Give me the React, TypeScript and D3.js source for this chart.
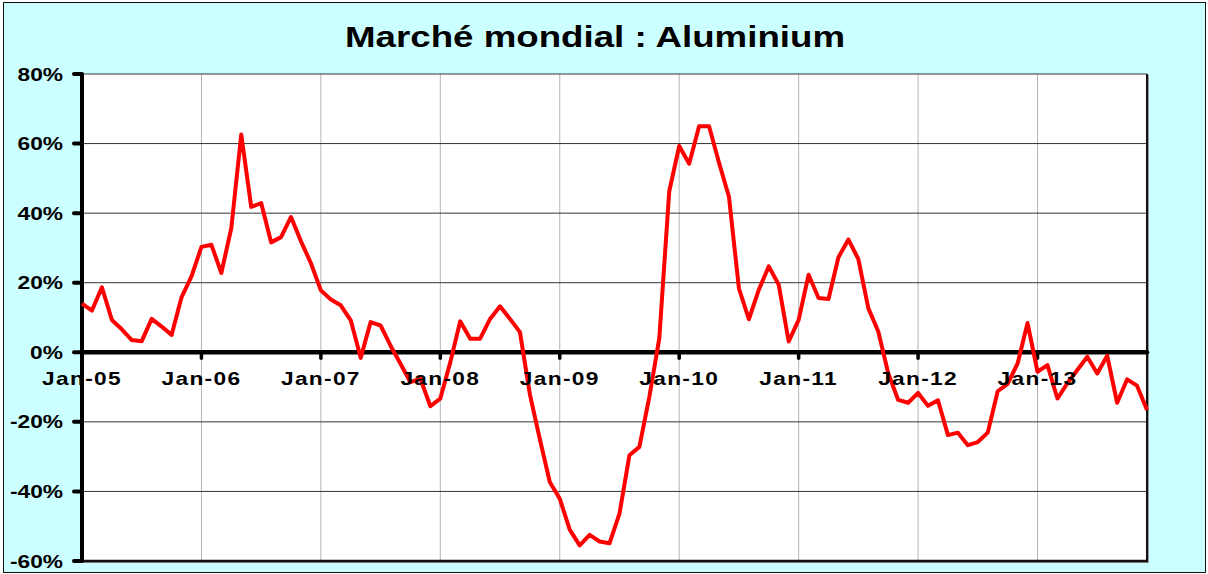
import React, { useRef, useEffect } from 'react'
import * as d3 from 'd3'

// monthly year-on-year change (%), Jan-05 .. Dec-13
const values2005 = [14, 12, 18.7, 9.3, 6.6, 3.5, 3.2, 9.6, 7.4, 5.0, 15.8, 21.8]
const values2006 = [30.3, 30.9, 22.8, 35.7, 62.6, 41.8, 42.9, 31.6, 33.1, 38.9, 31.9, 25.6]
const values2007 = [17.8, 15.2, 13.5, 9.2, -1.6, 8.7, 7.7, 1.9, -3.3, -8.6, -7.6, -15.5]
const values2008 = [-13.3, -2.9, 8.9, 3.9, 3.9, 9.6, 13.2, 9.6, 5.8, -12.1, -25, -37.3]
const values2009 = [-42.1, -51.0, -55.5, -52.5, -54.4, -54.9, -46.4, -29.6, -27.2, -12.8, 4.0, 46.3]
const values2010 = [59.3, 54.2, 65.0, 65.0, 54.5, 44.7, 18.4, 9.5, 18.0, 24.7, 19.4, 3.1]
const values2011 = [9.3, 22.3, 15.6, 15.3, 27.3, 32.4, 26.8, 12.7, 6.0, -6.0, -13.7, -14.5]
const values2012 = [-11.7, -15.4, -13.8, -23.8, -23.1, -26.7, -25.8, -23.1, -11.2, -9.1, -3.2, 8.4]
const values2013 = [-5.6, -3.7, -13.3, -8.9, -5.1, -1.3, -6.1, -1.0, -14.5, -7.8, -9.6, -16.6]

const series = [
    ...values2005, ...values2006, ...values2007, ...values2008, ...values2009,
    ...values2010, ...values2011, ...values2012, ...values2013,
]

const yearLabels = ['Jan-05', 'Jan-06', 'Jan-07', 'Jan-08', 'Jan-09', 'Jan-10', 'Jan-11', 'Jan-12', 'Jan-13']
const yTicks = [80, 60, 40, 20, 0, -20, -40, -60]
const title = 'Marché mondial : Aluminium'

const width = 1208
const height = 574
const FONT = "'Liberation Sans', Arial, sans-serif"

export default function App() {
    const visEl = useRef<HTMLDivElement>(null)

    useEffect(() => {
        const root = d3.select(visEl.current)
        root.selectAll('*').remove()
        const svg = root.append('svg')
            .attr('width', width)
            .attr('height', height)
            .style('position', 'absolute')
            .style('left', '0px')
            .style('top', '0px')

        const margin = { top: 74, right: 61, bottom: 13, left: 82 }
        const x = d3.scaleLinear().domain([0, series.length - 1]).range([margin.left, width - margin.right])
        const y = d3.scaleLinear().domain([-60, 80]).range([height - margin.bottom, margin.top])
        const x0 = x.range()[0], x1 = x.range()[1]
        const yTop = y(80), yBot = y(-60)

        // chart area
        svg.append('rect')
            .attr('x', 3.5).attr('y', 2.5)
            .attr('width', 1202).attr('height', 570)
            .attr('fill', '#ccffff')
            .attr('stroke', '#111')

        svg.append('text')
            .attr('x', 595).attr('y', 47)
            .attr('text-anchor', 'middle')
            .attr('font-family', FONT)
            .attr('font-weight', 'bold')
            .attr('font-size', 29)
            .attr('textLength', 500)
            .attr('lengthAdjust', 'spacingAndGlyphs')
            .text(title)

        // plot area
        svg.append('rect')
            .attr('x', x0 + 1).attr('y', yTop + 1)
            .attr('width', x1 - x0 + 1).attr('height', yBot - yTop + 1)
            .attr('fill', '#999')
        svg.append('rect')
            .attr('x', x0).attr('y', yTop)
            .attr('width', x1 - x0).attr('height', yBot - yTop)
            .attr('fill', '#fff')

        const yearIdx = yearLabels.map((_, i) => i * 12)

        // vertical grid
        svg.append('g').selectAll('line').data(yearIdx.slice(1)).enter().append('line')
            .attr('x1', d => x(d)).attr('x2', d => x(d))
            .attr('y1', yTop).attr('y2', yBot)
            .attr('stroke', '#b4b4b4').attr('stroke-width', 1)

        // horizontal grid
        svg.append('g').selectAll('line').data(yTicks.filter(d => d !== 0 && d !== 80 && d !== -60)).enter().append('line')
            .attr('x1', x0).attr('x2', x1)
            .attr('y1', d => y(d)).attr('y2', d => y(d))
            .attr('stroke', '#333').attr('stroke-width', 1)

        // plot border
        svg.append('line').attr('x1', x0).attr('x2', x1).attr('y1', yTop).attr('y2', yTop)
            .attr('stroke', '#333').attr('stroke-width', 1.2)
        svg.append('line').attr('x1', x1).attr('x2', x1).attr('y1', yTop).attr('y2', yBot)
            .attr('stroke', '#111').attr('stroke-width', 2)
        svg.append('line').attr('x1', x0).attr('x2', x1 + 1).attr('y1', yBot).attr('y2', yBot)
            .attr('stroke', '#111').attr('stroke-width', 2.5)

        // value axis
        svg.append('line').attr('x1', x0).attr('x2', x0).attr('y1', yTop).attr('y2', yBot)
            .attr('stroke', '#000').attr('stroke-width', 4)
        svg.append('g').selectAll('line').data(yTicks).enter().append('line')
            .attr('x1', x0 - 8).attr('x2', x0)
            .attr('y1', d => y(d)).attr('y2', d => y(d))
            .attr('stroke', '#000').attr('stroke-width', 4).attr('stroke-linecap', 'round')

        // category axis at 0
        svg.append('line').attr('x1', x0).attr('x2', x1).attr('y1', y(0)).attr('y2', y(0))
            .attr('stroke', '#000').attr('stroke-width', 4.5).attr('stroke-linecap', 'round')
        svg.append('g').selectAll('line').data(yearIdx.slice(1)).enter().append('line')
            .attr('x1', d => x(d)).attr('x2', d => x(d))
            .attr('y1', y(0)).attr('y2', y(0) + 6)
            .attr('stroke', '#000').attr('stroke-width', 3.5).attr('stroke-linecap', 'round')

        // series
        const line = d3.line<number>().x((_, i) => x(i)).y(d => y(d))
        svg.append('path')
            .datum(series)
            .attr('d', line)
            .attr('fill', 'none')
            .attr('stroke', '#ff0000')
            .attr('stroke-width', 4)
            .attr('stroke-linejoin', 'round')

        // tick labels
        svg.append('g').selectAll('text').data(yTicks).enter().append('text')
            .attr('transform', d => `translate(63,${y(d) + 6.5}) scale(1.3,1)`)
            .attr('text-anchor', 'end')
            .attr('font-family', FONT)
            .attr('font-weight', 'bold')
            .attr('font-size', 17.5)
            .text(d => `${d}%`)

        svg.append('g').selectAll('text').data(yearLabels).enter().append('text')
            .attr('transform', (_, i) => `translate(${x(yearIdx[i])},${y(0) + 33}) scale(1.3,1)`)
            .attr('text-anchor', 'middle')
            .attr('font-family', FONT)
            .attr('font-weight', 'bold')
            .attr('font-size', 17.5)
            .attr('letter-spacing', 1)
            .text(d => d)
    }, [])

    return (
        <div>
            <div ref={visEl}></div>
        </div>
    )
}
